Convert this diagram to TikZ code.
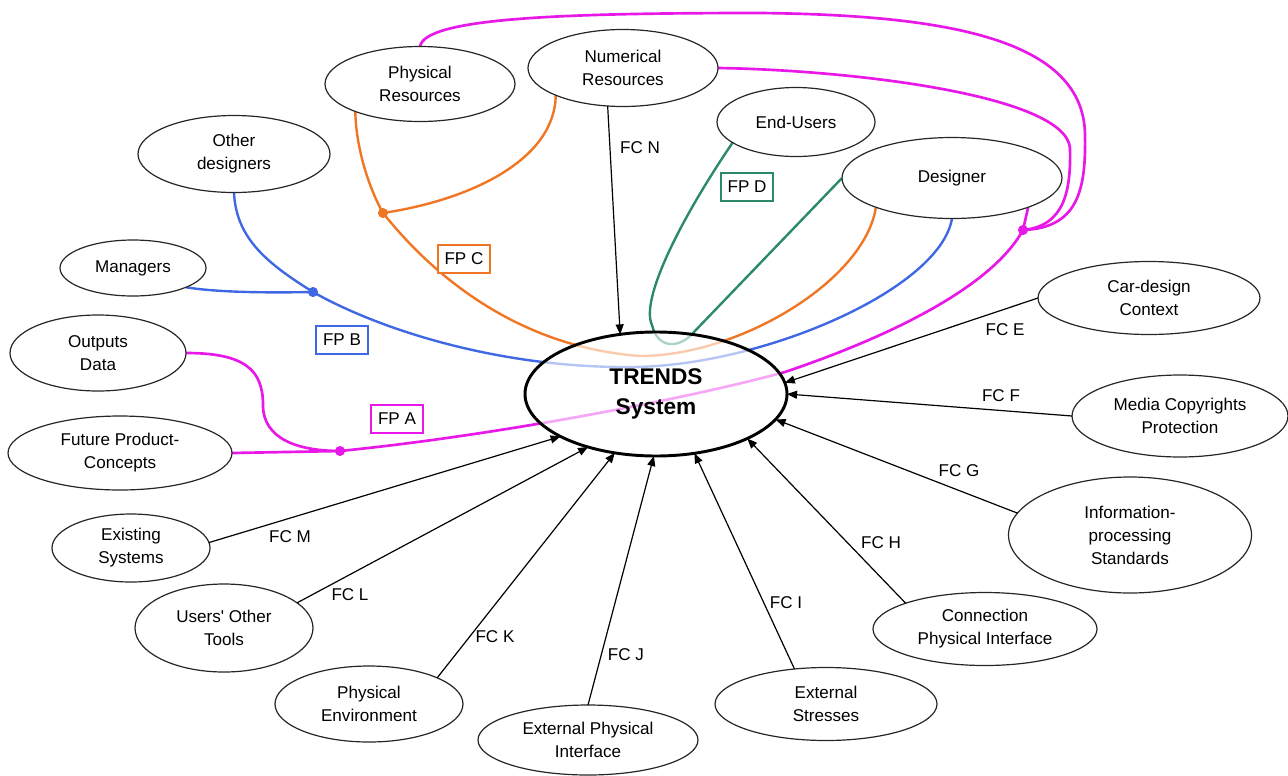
\documentclass[tikz,border=0pt]{standalone}
\usepackage{fontspec}
\setmainfont{Liberation Sans}
\usetikzlibrary{arrows.meta,shapes.geometric}
\definecolor{fpaC}{RGB}{232,24,232}
\definecolor{fpbC}{RGB}{64,104,228}
\definecolor{fpcC}{RGB}{240,118,36}
\definecolor{fpdC}{RGB}{44,138,104}
\pgfdeclarelayer{bg}
\pgfsetlayers{bg,main}
\begin{document}
\begin{tikzpicture}[x=0.75pt,y=-0.75pt,
  bubble/.style={ellipse, draw=black!85, line width=0.9pt, fill=white,
    align=center, inner sep=0pt, outer sep=0pt,
    font=\fontsize{12.8}{17.2}\selectfont},
  trends/.style={ellipse, draw=black, line width=2.2pt, fill=white,
    fill opacity=0.62, text opacity=1, align=center, inner sep=0pt,
    outer sep=0pt, minimum width=196.5pt, minimum height=93pt,
    font=\fontsize{17}{22.5}\selectfont\bfseries},
  fclabel/.style={inner sep=1pt, font=\fontsize{12.8}{15}\selectfont},
  fpbox/.style={draw, line width=0.8pt, fill=white, inner sep=0pt,
    minimum width=39pt, minimum height=21pt,
    font=\fontsize{12.8}{15}\selectfont},
  flow/.style={draw=black, line width=0.9pt,
    -{Triangle[length=7.5pt,width=6pt]}},
  fpa/.style={draw=fpaC, line width=2pt},
  fpb/.style={draw=fpbC, line width=1.8pt},
  fpc/.style={draw=fpcC, line width=1.8pt},
  fpd/.style={draw=fpdC, line width=1.8pt}]
\useasboundingbox (0,0) rectangle (1288,775);

% central system
\node[trends] (T) at (656,394) {TRENDS\\System};

% stakeholders and resources
\node[bubble, minimum width=142.5pt, minimum height=56.25pt] (PR) at (420,84) {Physical\\Resources};
\node[bubble, minimum width=142.5pt, minimum height=57.75pt] (NR) at (623,68) {Numerical\\Resources};
\node[bubble, minimum width=118.5pt, minimum height=51.75pt] (EU) at (796,122) {End-Users};
\node[bubble, minimum width=165pt, minimum height=60.75pt] (D) at (952,178) {Designer};
\node[bubble, minimum width=144pt, minimum height=57.75pt] (OD) at (234,154) {Other\\designers};
\node[bubble, minimum width=109.5pt, minimum height=42pt] (MG) at (133,268) {Managers};
\node[bubble, minimum width=132pt, minimum height=57pt] (OUT) at (98,353) {Outputs\\Data};
\node[bubble, minimum width=168pt, minimum height=55.5pt] (FPC) at (120,453) {Future Product-\\Concepts};

% constraint sources
\node[bubble, minimum width=118.5pt, minimum height=51pt] (ES) at (131,548) {Existing\\Systems};
\node[bubble, minimum width=133.5pt, minimum height=66pt] (UT) at (224,628) {Users\textquotesingle\ Other\\Tools};
\node[bubble, minimum width=141pt, minimum height=57pt] (PE) at (369,704) {Physical\\Environment};
\node[bubble, minimum width=165pt, minimum height=52.5pt] (EPI) at (588,740) {External Physical\\Interface};
\node[bubble, minimum width=166.5pt, minimum height=54.75pt] (EST) at (826,704) {External\\Stresses};
\node[bubble, minimum width=168pt, minimum height=54.75pt] (CPI) at (985,629) {Connection\\Physical Interface};
\node[bubble, minimum width=182.25pt, minimum height=87pt] (IPS) at (1130,535) {Information-\\processing\\Standards};
\node[bubble, minimum width=162pt, minimum height=61.5pt] (MCP) at (1180,416) {Media Copyrights\\Protection};
\node[bubble, minimum width=166.5pt, minimum height=54.75pt] (CDC) at (1149,298) {Car-design\\Context};

% junctions of the product flows
\coordinate (Jo) at (383,213);
\coordinate (Jb) at (313,292);
\coordinate (Ja) at (340,451);
\coordinate (Jm) at (1023,230);

\begin{pgfonlayer}{bg}
% FP D
\draw[fpd] (EU.-162) .. controls (680,220) and (640,300) .. (652,325)
  .. controls (658,350) and (680,348) .. (693,333) -- (D.west);
% FP C
\draw[fpc] (PR.-157) .. controls (356,150) and (370,190) .. (Jo);
\draw[fpc] (NR.-158) .. controls (555,160) and (470,200) .. (Jo);
\draw[fpc] (Jo) .. controls (405,240) and (490,345) .. (640,356)
  .. controls (740,356) and (865,280) .. (D.-159);
% FP B
\draw[fpb] (OD.south) .. controls (236,240) and (270,265) .. (Jb);
\draw[fpb] (MG.-20) .. controls (215,292) and (260,293) .. (Jb);
\draw[fpb] (Jb) .. controls (380,330) and (500,368) .. (630,367)
  .. controls (760,367) and (940,290) .. (D.south);
% FP A
\draw[fpa] (OUT.east) .. controls (245,353) and (263,370) .. (263,405)
  .. controls (263,440) and (300,451) .. (Ja);
\draw[fpa] (FPC.east) -- (Ja);
\draw[fpa] (Ja) .. controls (500,435) and (690,398) .. (785,372)
  .. controls (880,340) and (990,290) .. (Jm);
\draw[fpa] (Jm) -- (D.-21);
\draw[fpa] (Jm) .. controls (1078,228) and (1086,190) .. (1085,135)
  .. controls (1084,40) and (950,15) .. (760,13)
  .. controls (560,13) and (425,18) .. (PR.north);
\draw[fpa] (Jm) .. controls (1065,226) and (1071,190) .. (1070,148)
  .. controls (1065,95) and (850,70) .. (NR.east);
\end{pgfonlayer}

% junction dots
\fill[fpcC] (Jo) circle (3.8pt);
\fill[fpbC] (Jb) circle (3.8pt);
\fill[fpaC] (Ja) circle (3.8pt);
\fill[fpaC] (Jm) circle (3.8pt);

% product flow labels
\node[fpbox, draw=fpaC] (FPAl) at (397,419) {FP A};
\node[fpbox, draw=fpbC] (FPBl) at (342,340) {FP B};
\node[fpbox, draw=fpcC] (FPCl) at (464,259) {FP C};
\node[fpbox, draw=fpdC] (FPDl) at (747,187) {FP D};

% constraint flows
\draw[flow] (NR.-112) -- (T.121);
\draw[flow] (CDC.west) -- (T.5);
\draw[flow] (MCP.west) -- (T.0);
\draw[flow] (IPS.169) -- (T.-12);
\draw[flow] (CPI.162) -- (T.-26);
\draw[flow] (EST.132) -- (T.-57);
\draw[flow] (EPI.north) -- (T.-92);
\draw[flow] (PE.21) -- (T.-125);
\draw[flow] (UT.19) -- (T.-142);
\draw[flow] (ES.4) -- (T.-156);

\node[fclabel] (lN) at (640,148) {FC N};
\node[fclabel] (lE) at (1005,330) {FC E};
\node[fclabel] (lF) at (1001,396) {FC F};
\node[fclabel] (lG) at (959,471) {FC G};
\node[fclabel] (lH) at (881,543) {FC H};
\node[fclabel] (lI) at (786,603) {FC I};
\node[fclabel] (lJ) at (626,655) {FC J};
\node[fclabel] (lK) at (495,637) {FC K};
\node[fclabel] (lL) at (350,595) {FC L};
\node[fclabel] (lM) at (290,537) {FC M};
\end{tikzpicture}
\end{document}
